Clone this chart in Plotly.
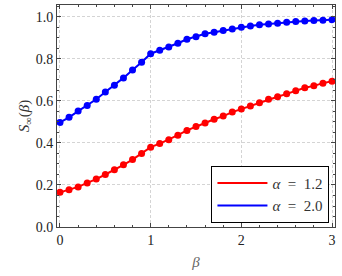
import plotly.graph_objects as go

beta = [round(i * 0.1, 1) for i in range(31)]

s_alpha_12 = [0.165, 0.177, 0.191, 0.210, 0.228, 0.250, 0.272, 0.296, 0.321, 0.350,
              0.380, 0.397, 0.416, 0.437, 0.460, 0.479, 0.495, 0.513, 0.528, 0.547,
              0.562, 0.576, 0.592, 0.608, 0.620, 0.634, 0.649, 0.663, 0.672, 0.685,
              0.694]
s_alpha_20 = [0.498, 0.522, 0.552, 0.579, 0.608, 0.643, 0.675, 0.710, 0.748, 0.784,
              0.825, 0.841, 0.857, 0.875, 0.894, 0.906, 0.920, 0.927, 0.935, 0.943,
              0.951, 0.957, 0.963, 0.967, 0.970, 0.975, 0.978, 0.981, 0.983, 0.984,
              0.987]

labels = ["<i>α</i>\u2002=\u20021.2", "<i>α</i>\u2002=\u20022.0"]
colors = ["#ff0000", "#0000ff"]
series = [s_alpha_12, s_alpha_20]

fig = go.Figure()
for ys, c in zip(series, colors):
    fig.add_trace(go.Scatter(x=beta, y=ys, mode="lines+markers",
                             line=dict(color=c, width=2),
                             marker=dict(color=c, size=7),
                             showlegend=False))
for c, lab in zip(colors, labels):
    fig.add_trace(go.Scatter(x=[None], y=[None], mode="lines",
                             line=dict(color=c, width=2), name=lab))

font_family = "Liberation Serif, DejaVu Serif, serif"
axis_common = dict(
    showline=True, linecolor="#444", linewidth=1, mirror="allticks",
    ticks="inside", ticklen=4, tickcolor="#444", tickwidth=1,
    showgrid=True, gridcolor="#d4d4d4", griddash="3px,2px", gridwidth=1,
    zeroline=False, tickfont=dict(size=14, color="#222", family=font_family),
)

fig.update_xaxes(range=[-0.033, 3.033], tickvals=[0, 1, 2, 3], ticktext=["0", "1", "2", "3"],
                 minor=dict(dtick=0.2, tick0=0, ticks="inside", ticklen=2, tickcolor="#444", showgrid=False),
                 title=dict(text="<i>β</i>", font=dict(size=15, color="#666", family=font_family), standoff=9),
                 **axis_common)
fig.update_yaxes(range=[0, 1.057], tickvals=[0, 0.2, 0.4, 0.6, 0.8, 1.0],
                 ticktext=["0.0", "0.2", "0.4", "0.6", "0.8", "1.0"],
                 minor=dict(dtick=0.05, tick0=0, ticks="inside", ticklen=2, tickcolor="#444", showgrid=False),
                 title=dict(text="<i>S</i><sub>∞</sub>(<i>β</i>)", font=dict(size=15, color="#333", family=font_family), standoff=2),
                 **axis_common)

fig.update_layout(
    width=342, height=276,
    margin=dict(l=57, r=7, t=5, b=49),
    plot_bgcolor="white", paper_bgcolor="white",
    font=dict(family=font_family, color="#333"),
    legend=dict(x=0.98, y=0.276, xanchor="right", yanchor="top",
                bordercolor="black", borderwidth=1, bgcolor="white",
                font=dict(size=15, family=font_family, color="#333"),
                itemwidth=50),
)

fig.write_html("out.html", config={"displayModeBar": False},
               post_script="document.body.style.margin='0';")
